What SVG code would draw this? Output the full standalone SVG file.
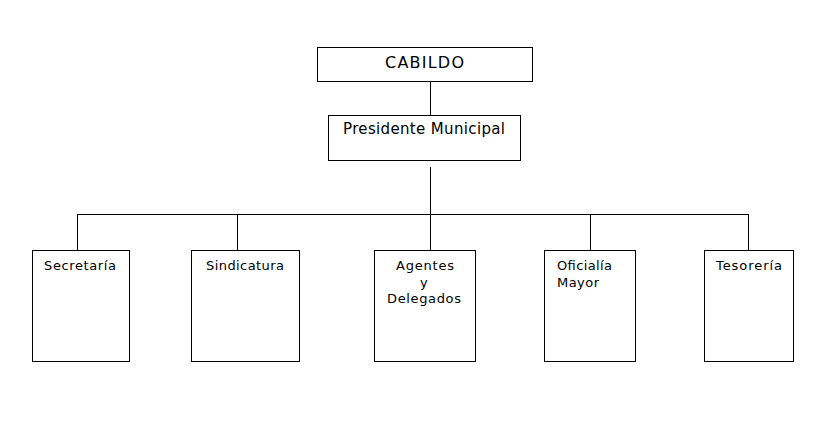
<svg xmlns="http://www.w3.org/2000/svg" width="839" height="439" viewBox="0 0 839 439">
<style>
.box{fill:#fff;stroke:#000;stroke-width:1}
.ln{stroke:#000;stroke-width:1;fill:none}
text{font-family:"DejaVu Sans","Liberation Sans",sans-serif;font-size:13px;fill:#000}
.t{font-size:16px}
.p{font-size:15px}
</style>
<rect width="839" height="439" fill="#fff"/>
<g id="connectors">
<path class="ln" d="M430.5 81V115M430.5 167V214M77.5 214.5H748.5M77.5 214V250M237.5 214V250M430.5 214V250M590.5 214V250M748.5 214V250"/>
</g>
<g id="cabildo"><rect class="box" x="317.5" y="47.5" width="215" height="34"/><text class="t" x="385" y="68" textLength="79" lengthAdjust="spacing">CABILDO</text></g>
<g id="presidente"><rect class="box" x="328.5" y="115.5" width="192" height="45"/><text class="p" x="343" y="134" textLength="162" lengthAdjust="spacing">Presidente Municipal</text></g>
<g id="secretaria"><rect class="box" x="32.5" y="250.5" width="97" height="111"/><text x="44" y="270" textLength="72" lengthAdjust="spacing">Secretaría</text></g>
<g id="sindicatura"><rect class="box" x="191.5" y="250.5" width="108" height="111"/><text x="206" y="270" textLength="78" lengthAdjust="spacing">Sindicatura</text></g>
<g id="agentes"><rect class="box" x="374.5" y="250.5" width="101" height="111"/><text x="396" y="270" textLength="58" lengthAdjust="spacing">Agentes</text><text x="420" y="287">y</text><text x="387" y="303" textLength="74" lengthAdjust="spacing">Delegados</text></g>
<g id="oficialia"><rect class="box" x="544.5" y="250.5" width="91" height="111"/><text x="557" y="270" textLength="55" lengthAdjust="spacing">Oficialía</text><text x="557" y="287" textLength="42" lengthAdjust="spacing">Mayor</text></g>
<g id="tesoreria"><rect class="box" x="704.5" y="250.5" width="89" height="111"/><text x="716" y="270" textLength="66" lengthAdjust="spacing">Tesorería</text></g>
</svg>
